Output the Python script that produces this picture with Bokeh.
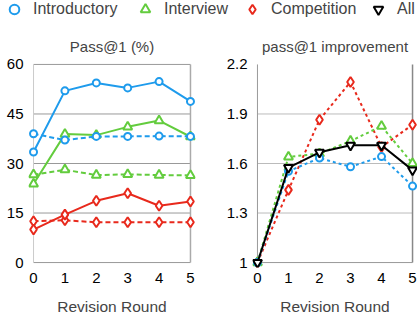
from bokeh.plotting import figure
from bokeh.layouts import column, row
from bokeh.models import Legend, LegendItem, FixedTicker, CustomJSTickFormatter, Range1d
from bokeh.embed import file_html
from bokeh.resources import INLINE

# ---------------- data ----------------
rounds = [0, 1, 2, 3, 4, 5]

# Left panel: Pass@1 (%)
intro_solid = [33.5, 52.0, 54.4, 52.9, 54.8, 48.8]
intro_dashed = [39.0, 37.1, 38.2, 38.2, 38.3, 38.2]
interview_solid = [23.8, 38.9, 38.6, 41.1, 43.0, 38.1]
interview_dashed = [26.6, 28.1, 26.5, 26.7, 26.5, 26.4]
comp_solid = [10.0, 14.5, 18.7, 21.0, 17.2, 18.5]
comp_dashed = [12.5, 12.8, 12.2, 12.2, 12.2, 12.2]

# Right panel: pass@1 improvement
impr_intro = [1.0, 1.553, 1.633, 1.58, 1.642, 1.463]
impr_interview = [1.0, 1.64, 1.66, 1.736, 1.826, 1.60]
impr_comp = [1.0, 1.44, 1.865, 2.094, 1.70, 1.835]
impr_all = [1.0, 1.575, 1.668, 1.71, 1.71, 1.56]

left_ticks = [0, 15, 30, 45, 60]
right_ticks = [1.0, 1.3, 1.6, 1.9, 2.2]

labels = ["Introductory", "Interview", "Competition", "All"]

# ---------------- style ----------------
BLUE = "#1e9bec"
GREEN = "#63cc3e"
RED = "#e8291c"
BLACK = "#000000"
FONT = "Liberation Sans"

MK = {
    "Introductory": dict(marker="circle", size=7, color=BLUE),
    "Interview": dict(marker="triangle", size=9, color=GREEN),
    "Competition": dict(marker="diamond", size=10, color=RED),
    "All": dict(marker="inverted_triangle", size=9, color=BLACK),
}
LEGEND_X = [0, 131, 238, 364]


def series(p, y, name, dash):
    m = MK[name]
    p.line(rounds, y, line_color=m["color"], line_width=2, line_dash=dash)
    p.scatter(rounds, y, marker=m["marker"], size=m["size"], line_color=m["color"],
              fill_color="white", line_width=2)


def style(p, ticks):
    p.outline_line_color = None
    p.grid.visible = False
    p.title.align = "center"
    p.title.text_font = FONT
    p.title.text_font_size = "15px"
    p.title.text_font_style = "normal"
    if "padding" in p.title.properties():
        p.title.padding = (0, 0, 10, 0)
    for ax in (p.xaxis[0], p.yaxis[0]):
        ax.axis_line_color = None
        ax.major_tick_line_color = None
        ax.minor_tick_line_color = None
        ax.major_tick_out = 0
        ax.major_tick_in = 0
        ax.minor_tick_out = 0
        ax.minor_tick_in = 0
        ax.major_label_text_font = FONT
        ax.major_label_text_font_size = "15px"
        ax.major_label_text_color = "black"
    p.xaxis.ticker = FixedTicker(ticks=rounds)
    p.yaxis.ticker = FixedTicker(ticks=ticks)
    p.yaxis.major_label_standoff = 5
    p.xaxis.major_label_standoff = 5
    p.xaxis.axis_label = "Revision Round"
    p.xaxis.axis_label_text_font = FONT
    p.xaxis.axis_label_text_font_size = "15.5px"
    p.xaxis.axis_label_text_font_style = "normal"
    p.xaxis.axis_label_standoff = 12


# ---------------- legend strip ----------------
leg = figure(width=417, height=18, output_backend="svg", toolbar_location=None, tools="",
             x_range=(0, 1), y_range=(0, 1), x_axis_type=None, y_axis_type=None,
             min_border=0)
leg.grid.visible = False
leg.outline_line_color = None
for name, lx in zip(labels, LEGEND_X):
    m = MK[name]
    r = leg.scatter([-10], [-10], marker=m["marker"], size=m["size"], line_color=m["color"],
                    fill_color="white", line_width=2)
    legend = Legend(items=[LegendItem(label=name, renderers=[r])], orientation="horizontal",
                    location=(lx, -3), margin=0, padding=0, spacing=0,
                    glyph_width=28, glyph_height=24, label_standoff=5,
                    label_text_font=FONT, label_text_font_size="16px", label_height=16,
                    border_line_color=None, background_fill_alpha=0)
    leg.add_layout(legend, "center")

# ---------------- left panel ----------------
p1 = figure(width=223, height=301, output_backend="svg", toolbar_location=None, tools="",
            title="Pass@1 (%)", x_range=Range1d(-0.16, 5.16), y_range=Range1d(-1.5, 61.5),
            min_border_left=28, min_border_right=28, min_border_top=41, min_border_bottom=52)
style(p1, left_ticks)
x0, x1 = rounds[0], rounds[-1]
p1.segment([x0] * 4, left_ticks[1:], [x1] * 4, left_ticks[1:], line_color="#999999", line_width=1)
p1.segment([x0], [left_ticks[0]], [x1], [left_ticks[0]], line_color="#999999", line_width=1)
p1.segment([x0], [left_ticks[0]], [x0], [left_ticks[-1]], line_color="#cccccc", line_width=1)
p1.segment([x1], [left_ticks[0]], [x1], [left_ticks[-1]], line_color="#aaaaaa", line_width=1.5)

series(p1, comp_dashed, "Competition", "5 3")
series(p1, comp_solid, "Competition", "solid")
series(p1, interview_dashed, "Interview", "5 3")
series(p1, interview_solid, "Interview", "solid")
series(p1, intro_dashed, "Introductory", "5 3")
series(p1, intro_solid, "Introductory", "solid")

# ---------------- right panel ----------------
p2 = figure(width=194, height=301, output_backend="svg", toolbar_location=None, tools="",
            title="pass@1 improvement", x_range=Range1d(-0.16, 5.16), y_range=Range1d(0.97, 2.23),
            min_border_left=26, min_border_right=0, min_border_top=41, min_border_bottom=52)
style(p2, right_ticks)
p2.yaxis.formatter = CustomJSTickFormatter(code="return (Math.round(tick*10)/10).toString();")
mid = right_ticks[1:-1]
p2.segment([x0] * len(mid), mid, [x1] * len(mid), mid, line_color="#bbbbbb", line_width=1)
p2.segment([x0], [right_ticks[0]], [x1], [right_ticks[0]], line_color="#999999", line_width=1)
p2.segment([x0], [right_ticks[0]], [x0], [right_ticks[-1]], line_color="#999999", line_width=1)
p2.segment([x1], [right_ticks[0]], [x1], [right_ticks[-1]], line_color="#888888", line_width=1.5)

series(p2, impr_comp, "Competition", "3 3")
series(p2, impr_interview, "Interview", "3 3")
series(p2, impr_intro, "Introductory", "3 3")
series(p2, impr_all, "All", "solid")

layout = column(leg, row(p1, p2))
open("out.html", "w").write(file_html(layout, INLINE))
